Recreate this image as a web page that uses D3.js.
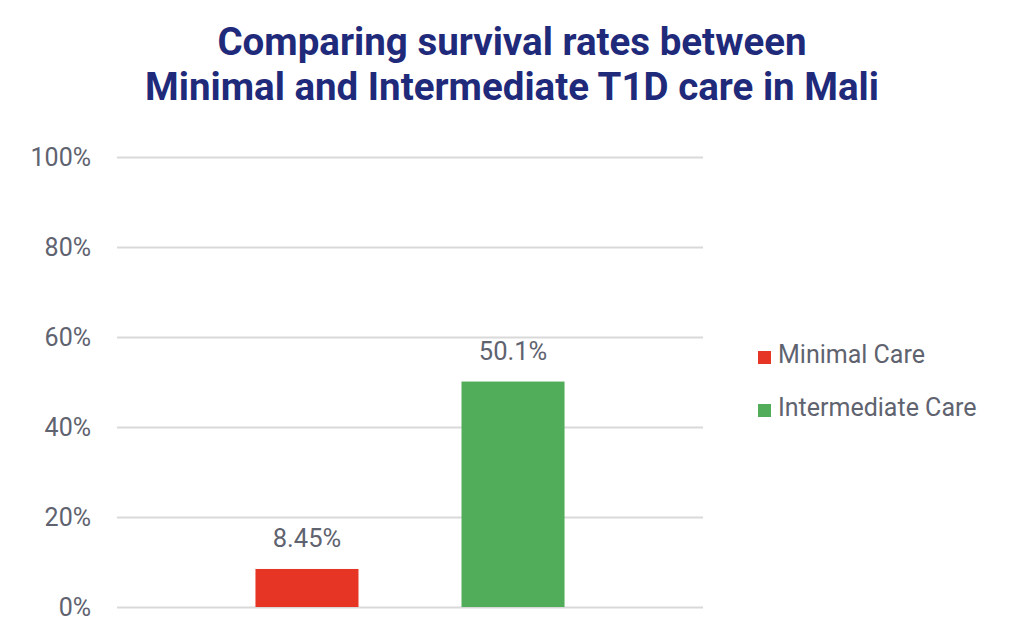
<!DOCTYPE html>
<html><head><meta charset="utf-8">
<script src="https://cdn.jsdelivr.net/npm/d3@7"></script>
<style>body{margin:0;background:#fff}svg{display:block}</style>
</head><body>
<svg id="c" width="1024" height="640"></svg>
<script>
const categories = ["Mali"];
const seriesNames = ["Minimal Care", "Intermediate Care"];
const seriesValues = [8.45, 50.1];
const valueLabels = ["8.45%", "50.1%"];
const seriesColors = ["#e63525", "#52ad5a"];
const yTicks = [0, 20, 40, 60, 80, 100];
const titleLines = ["Comparing survival rates between", "Minimal and Intermediate T1D care in Mali"];

const svg = d3.select("#c");
const font = "Roboto, 'Noto Sans', sans-serif";
const plotLeft = 117, plotRight = 703, plotTop = 157, plotBottom = 607;

const y = d3.scaleLinear().domain([0, 100]).range([plotBottom, plotTop]);
const x0 = d3.scaleBand().domain(categories).range([plotLeft, plotRight]).paddingOuter(0.448);
const x1 = d3.scaleBand().domain(seriesNames).range([0, x0.bandwidth()]).paddingInner(0.5).paddingOuter(0);

// title
svg.append("g").selectAll("text").data(titleLines).join("text")
  .attr("x", 512).attr("y", (d, i) => 55 + i * 45)
  .attr("text-anchor", "middle")
  .attr("font-family", font).attr("font-weight", 700).attr("font-size", 38.5)
  .attr("fill", "#1f2a7a").text(d => d);

// gridlines + y axis
const yAxis = d3.axisLeft(y).tickValues(yTicks).tickFormat(d => d + "%")
  .tickSize(-(plotRight - plotLeft)).tickPadding(26);
const ga = svg.append("g").attr("transform", `translate(${plotLeft},0)`).call(yAxis);
ga.select(".domain").remove();
ga.selectAll(".tick line").attr("stroke", "#d9d9d9").attr("stroke-width", 2);
ga.selectAll(".tick text").attr("font-family", font).attr("font-size", 25).attr("fill", "#5f6370");

// bars
const g = svg.append("g").selectAll("g").data(categories).join("g")
  .attr("transform", d => `translate(${x0(d)},0)`);
g.selectAll("rect").data(seriesNames.map((s, i) => ({s, v: seriesValues[i], c: seriesColors[i]})))
  .join("rect")
  .attr("x", d => x1(d.s)).attr("width", x1.bandwidth())
  .attr("y", d => y(d.v)).attr("height", d => y(0) - y(d.v))
  .attr("fill", d => d.c);
g.selectAll("text.lbl").data(seriesNames.map((s, i) => ({s, v: seriesValues[i], t: valueLabels[i]})))
  .join("text").attr("class", "lbl")
  .attr("x", d => x1(d.s) + x1.bandwidth() / 2).attr("y", d => y(d.v) - 22)
  .attr("text-anchor", "middle")
  .attr("font-family", font).attr("font-size", 25.5).attr("fill", "#5f6370")
  .text(d => d.t);

// legend
const lg = svg.append("g").selectAll("g").data(seriesNames).join("g")
  .attr("transform", (d, i) => `translate(758,${363 + i * 53})`);
lg.append("rect").attr("x", 0).attr("y", -12).attr("width", 13).attr("height", 13)
  .attr("fill", (d, i) => seriesColors[i]);
lg.append("text").attr("x", 20).attr("y", 0)
  .attr("font-family", font).attr("font-size", 25).attr("fill", "#5f6370")
  .text(d => d);
</script>
</body></html>
